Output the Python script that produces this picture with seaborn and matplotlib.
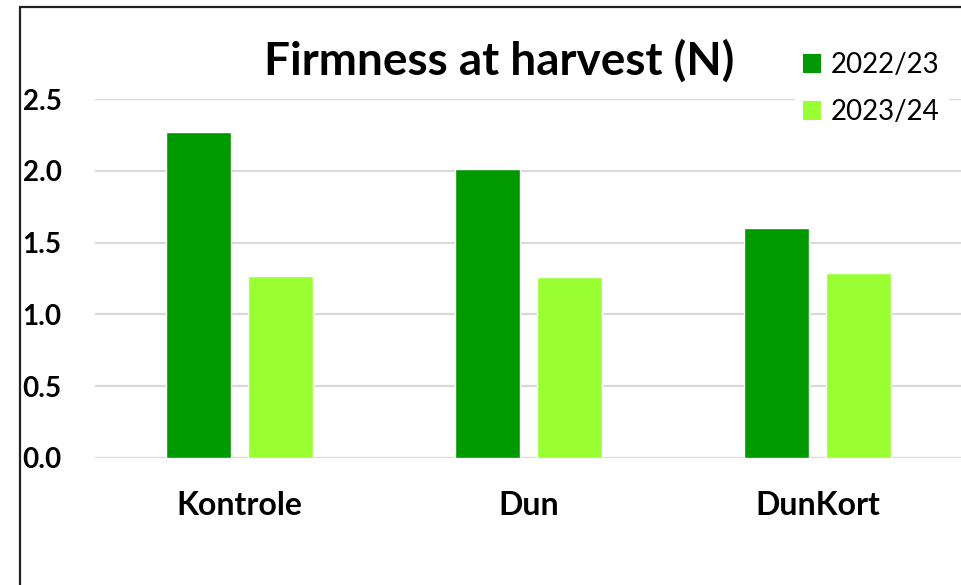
import matplotlib
matplotlib.use("Agg")
import matplotlib.pyplot as plt
import seaborn as sns
import pandas as pd
from matplotlib.patches import Rectangle, Patch

categories = ["Kontrole", "Dun", "DunKort"]
seasons = ["2022/23", "2023/24"]
values_2022 = [2.27, 2.01, 1.60]
values_2023 = [1.27, 1.26, 1.29]
yticks = [0.0, 0.5, 1.0, 1.5, 2.0, 2.5]
colors = ["#009900", "#99FF33"]
title = "Firmness at harvest (N)"

df = pd.DataFrame({
    "category": categories * 2,
    "season": [seasons[0]] * 3 + [seasons[1]] * 3,
    "value": values_2022 + values_2023,
})

sns.set_theme(style="white")
plt.rcParams["font.family"] = ["Lato", "DejaVu Sans"]
plt.rcParams["text.color"] = "black"
plt.rcParams["xtick.color"] = "black"
plt.rcParams["ytick.color"] = "black"

fig = plt.figure(figsize=(9.62, 5.85), dpi=100)
ax = fig.add_axes([95 / 962, 1 - 458 / 585, 1 - 95 / 962, (458 - 99) / 585])

sns.barplot(data=df, x="category", y="value", hue="season", order=categories,
            hue_order=seasons, palette=colors, width=0.571, gap=0.212,
            saturation=1, ax=ax, legend=False, zorder=3)

ax.set_xlim(-0.5, 2.5)
ax.set_ylim(0, 2.5)
ax.set_yticks(yticks)
ax.set_yticklabels([f"{t:.1f}" for t in yticks], fontsize=20, fontweight="bold")
ax.tick_params(axis="y", length=0, pad=24, labelcolor="black")
ax.tick_params(axis="x", length=0, pad=24, labelsize=23, labelcolor="black")
for lbl in ax.get_xticklabels():
    lbl.set_fontweight("bold")
ax.set_xlabel("")
ax.set_ylabel("")
for s in ax.spines.values():
    s.set_visible(False)
ax.yaxis.grid(True, color="#d9d9d9", linewidth=1.6, zorder=0)
ax.set_axisbelow(True)

fig.text(499 / 962, 1 - 61 / 585, title, ha="center", va="center",
         fontsize=33, fontweight="bold", color="black")

handles = [Patch(facecolor=c, edgecolor="none") for c in colors]
leg = fig.legend(handles, seasons, loc="upper left",
                 bbox_to_anchor=(781 / 962, 1 - 30 / 585), frameon=True,
                 fontsize=20, handlelength=0.65, handleheight=0.65,
                 handletextpad=0.35, labelspacing=0.75, borderpad=0.3,
                 fancybox=False, edgecolor="white", facecolor="white",
                 framealpha=1)
for t in leg.get_texts():
    t.set_color("black")

fig.patches.append(Rectangle((20 / 962, -0.1), 1.2, 1 - 7 / 585 + 0.1,
                             transform=fig.transFigure, fill=False,
                             edgecolor="#222222", linewidth=1.6))

fig.savefig("out.png", dpi=100)
